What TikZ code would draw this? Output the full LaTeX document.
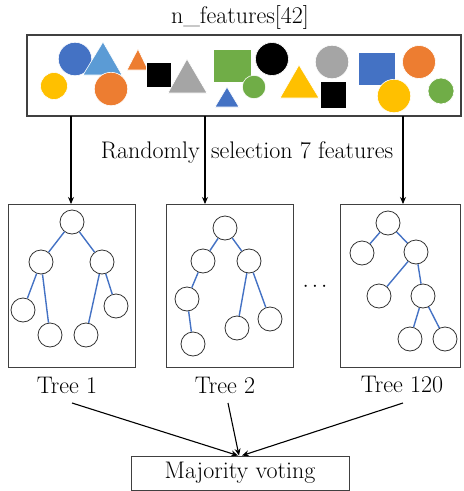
\documentclass[tikz,border=0pt]{standalone}
\usetikzlibrary{arrows.meta}
\definecolor{oblue}{HTML}{4472C4}
\definecolor{lblue}{HTML}{5B9BD5}
\definecolor{oorange}{HTML}{ED7D31}
\definecolor{ogray}{HTML}{A5A5A5}
\definecolor{oyellow}{HTML}{FFC000}
\definecolor{ogreen}{HTML}{70AD47}
\definecolor{frame}{HTML}{404040}
\begin{document}
\begin{tikzpicture}[x=1pt,y=-1pt,
  lbl/.style={font=\fontsize{24}{28}\selectfont, inner sep=0pt},
  tn/.style={circle, draw=black!80, fill=white, line width=0.8pt, minimum size=24pt, inner sep=0pt},
  te/.style={draw=oblue, line width=1.4pt},
  tbox/.style={draw=frame, line width=1pt},
  arr/.style={draw=black, line width=1.1pt, -{Stealth[length=7pt,width=6pt]}},
  sh/.style={draw=white, line width=0.6pt}]
\useasboundingbox (0,0) rectangle (464,491);

% title and top box
\node[lbl] (title) at (240,17) {n\_features[42]};
\draw[draw=frame, line width=1.3pt] (27,35) rectangle (461,116);
\coordinate (topL) at (71,116);
\coordinate (topM) at (205,116);
\coordinate (topR) at (403,116);

% shapes
\fill[oyellow, sh] (54,86) circle (13.5);
\fill[oblue, sh] (75,59) circle (16.7);
\fill[lblue, sh] (83,75) -- (122,75) -- (103,42) -- cycle;
\fill[oorange, sh] (111,89) circle (16.7);
\fill[oorange, sh] (127,70) -- (148,70) -- (138,49) -- cycle;
\fill[black, sh] (146,62) rectangle (171,87);
\fill[ogray, sh] (168,93) -- (207,93) -- (187,59) -- cycle;
\fill[ogreen, sh] (213,49) rectangle (251,82);
\fill[black, sh] (272,59) circle (16.5);
\fill[ogreen, sh] (254,87) circle (11.7);
\fill[oblue, sh] (215,107) -- (239,107) -- (227,87) -- cycle;
\fill[oyellow, sh] (280,98) -- (319,98) -- (299,65) -- cycle;
\fill[ogray, sh] (332,62) circle (16.7);
\fill[black, sh] (320,81) rectangle (346,108);
\fill[oblue, sh] (358,52) rectangle (395,85);
\fill[oorange, sh] (419,62) circle (16.5);
\fill[oyellow, sh] (394,96) circle (16.7);
\fill[ogreen, sh] (441,91) circle (13);

\node[lbl] (sel) at (247,153) {Randomly \,selection 7 features};

% tree boxes
\draw[tbox] (8,204) rectangle (135,367);
\draw[tbox] (166,204) rectangle (293,367);
\draw[tbox] (340,204) rectangle (460,367);
\coordinate (b1) at (71,204);
\coordinate (b2) at (205,204);
\coordinate (b3) at (403,204);
\draw[arr] (topL) -- (b1);
\draw[arr] (topM) -- (b2);
\draw[arr] (topR) -- (b3);

% tree 1
\node[tn] (a0) at (72,222) {};
\node[tn] (a1) at (41,262) {};
\node[tn] (a2) at (102,262) {};
\node[tn] (a3) at (23,310) {};
\node[tn] (a4) at (50,335) {};
\node[tn] (a5) at (86,335) {};
\node[tn] (a6) at (116,306) {};
\draw[te] (a0) -- (a1); \draw[te] (a0) -- (a2);
\draw[te] (a1) -- (a3); \draw[te] (a1) -- (a4);
\draw[te] (a2) -- (a5); \draw[te] (a2) -- (a6);

% tree 2
\node[tn] (c0) at (225,228) {};
\node[tn] (c1) at (203,261) {};
\node[tn] (c2) at (249,261) {};
\node[tn] (c3) at (187,299) {};
\node[tn] (c4) at (193,344) {};
\node[tn] (c5) at (237,328) {};
\node[tn] (c6) at (270,319) {};
\draw[te] (c0) -- (c1); \draw[te] (c0) -- (c2);
\draw[te] (c1) -- (c3); \draw[te] (c3) -- (c4);
\draw[te] (c2) -- (c5); \draw[te] (c2) -- (c6);

% tree 120
\node[tn] (d0) at (388,223) {};
\node[tn] (d1) at (362,253) {};
\node[tn] (d2) at (416,252) {};
\node[tn] (d3) at (379,296) {};
\node[tn] (d4) at (423,296) {};
\node[tn] (d5) at (410,339) {};
\node[tn] (d6) at (445,339) {};
\draw[te] (d0) -- (d1); \draw[te] (d0) -- (d2);
\draw[te] (d2) -- (d3); \draw[te] (d2) -- (d4);
\draw[te] (d4) -- (d5); \draw[te] (d4) -- (d6);

\node[font=\fontsize{20}{24}\selectfont, inner sep=0pt] (dots) at (315,287) {$\cdots$};

% labels
\node[lbl] (t1) at (67,385) {Tree 1};
\node[lbl] (t2) at (225,385) {Tree 2};
\node[lbl] (t3) at (402,385) {Tree 120};

% majority voting
\node[lbl, draw=frame, line width=0.9pt, minimum width=218pt, minimum height=34pt] (mv) at (240,473) {Majority voting};
\coordinate (s1) at (72,403);
\coordinate (s2) at (228,403);
\coordinate (s3) at (403,403);
\draw[arr] (s1) -- ([xshift=-2pt]mv.north);
\draw[arr] (s2) -- ([xshift=-1pt]mv.north);
\draw[arr] (s3) -- ([xshift=2pt]mv.north);
\end{tikzpicture}
\end{document}
